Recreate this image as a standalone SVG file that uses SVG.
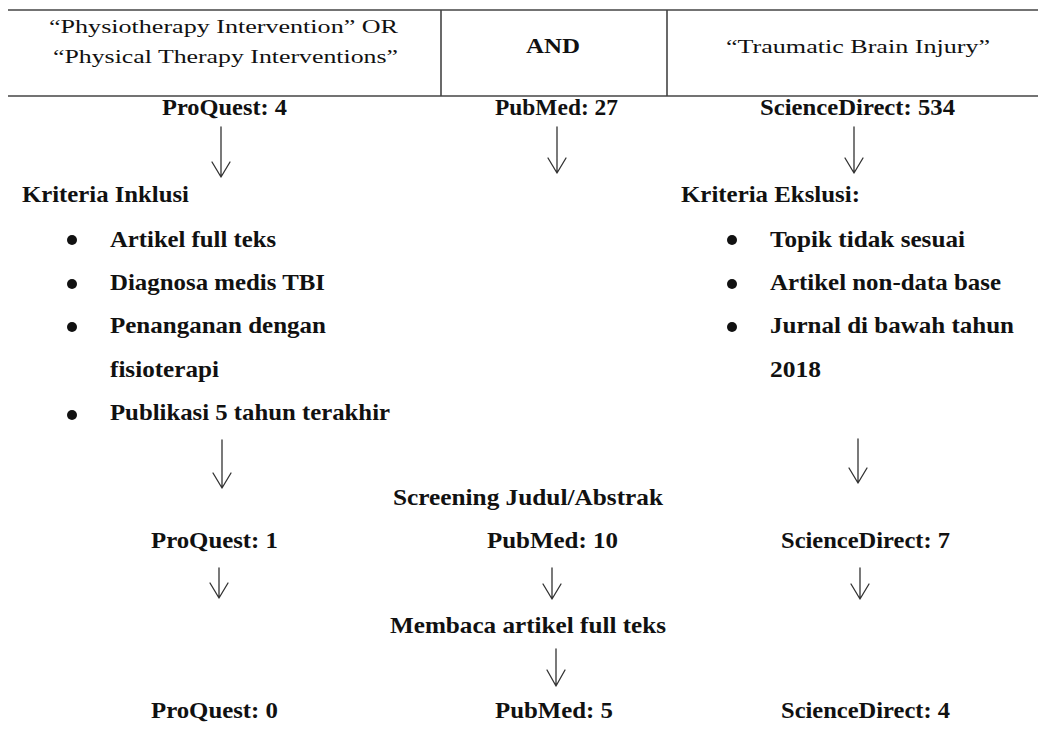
<svg xmlns="http://www.w3.org/2000/svg" width="1038" height="734" viewBox="0 0 1038 734">
<defs>
<style>
.r{font-family:"Liberation Serif","Times New Roman",serif;font-size:19.5px;fill:#111}
.b{font-family:"Liberation Serif","Times New Roman",serif;font-size:22.5px;font-weight:bold;fill:#111}
.tl{stroke:#444;stroke-width:1.6;fill:none}
.ar{stroke:#333;stroke-width:1.3;fill:none;stroke-linecap:round;stroke-linejoin:round}
.bu{fill:#111}
</style>
</defs>
<rect width="1038" height="734" fill="#fff"/>
<g id="table">
<line class="tl" x1="8" y1="10" x2="1038" y2="10"/>
<line class="tl" x1="8" y1="96" x2="1038" y2="96"/>
<line class="tl" x1="441" y1="10" x2="441" y2="96"/>
<line class="tl" x1="667" y1="10" x2="667" y2="96"/>
<text class="r" x="49" y="33" textLength="349" lengthAdjust="spacingAndGlyphs">“Physiotherapy Intervention” OR</text>
<text class="r" x="53" y="63" textLength="345" lengthAdjust="spacingAndGlyphs">“Physical Therapy Interventions”</text>
<text class="b" x="526" y="53" style="font-size:20px" textLength="54" lengthAdjust="spacingAndGlyphs">AND</text>
<text class="r" x="726" y="53" textLength="264" lengthAdjust="spacingAndGlyphs">“Traumatic Brain Injury”</text>
</g>
<g id="row1">
<text class="b" x="162" y="115" textLength="125" lengthAdjust="spacingAndGlyphs">ProQuest: 4</text>
<text class="b" x="495" y="115" textLength="123" lengthAdjust="spacingAndGlyphs">PubMed: 27</text>
<text class="b" x="760" y="115" textLength="195" lengthAdjust="spacingAndGlyphs">ScienceDirect: 534</text>
</g>
<g id="inklusi">
<text class="b" x="22" y="202" textLength="167" lengthAdjust="spacingAndGlyphs">Kriteria Inklusi</text>
<circle class="bu" cx="72" cy="240" r="5"/>
<circle class="bu" cx="72" cy="284" r="5"/>
<circle class="bu" cx="72" cy="327" r="5"/>
<circle class="bu" cx="72" cy="415" r="5"/>
<text class="b" x="110" y="247" textLength="166" lengthAdjust="spacingAndGlyphs">Artikel full teks</text>
<text class="b" x="110" y="290" textLength="215" lengthAdjust="spacingAndGlyphs">Diagnosa medis TBI</text>
<text class="b" x="110" y="333" textLength="216" lengthAdjust="spacingAndGlyphs">Penanganan dengan</text>
<text class="b" x="110" y="377" textLength="109" lengthAdjust="spacingAndGlyphs">fisioterapi</text>
<text class="b" x="110" y="420" textLength="280" lengthAdjust="spacingAndGlyphs">Publikasi 5 tahun terakhir</text>
</g>
<g id="eksklusi">
<text class="b" x="681" y="202" textLength="179" lengthAdjust="spacingAndGlyphs">Kriteria Ekslusi:</text>
<circle class="bu" cx="732" cy="240" r="5"/>
<circle class="bu" cx="732" cy="284" r="5"/>
<circle class="bu" cx="732" cy="327" r="5"/>
<text class="b" x="770" y="247" textLength="195" lengthAdjust="spacingAndGlyphs">Topik tidak sesuai</text>
<text class="b" x="770" y="290" textLength="231" lengthAdjust="spacingAndGlyphs">Artikel non-data base</text>
<text class="b" x="770" y="333" textLength="244" lengthAdjust="spacingAndGlyphs">Jurnal di bawah tahun</text>
<text class="b" x="770" y="377" textLength="51" lengthAdjust="spacingAndGlyphs">2018</text>
</g>
<g id="screening">
<text class="b" x="393" y="505" textLength="270" lengthAdjust="spacingAndGlyphs">Screening Judul/Abstrak</text>
</g>
<g id="row2">
<text class="b" x="151" y="548" textLength="127" lengthAdjust="spacingAndGlyphs">ProQuest: 1</text>
<text class="b" x="487" y="548" textLength="131" lengthAdjust="spacingAndGlyphs">PubMed: 10</text>
<text class="b" x="781" y="548" textLength="169" lengthAdjust="spacingAndGlyphs">ScienceDirect: 7</text>
</g>
<g id="membaca">
<text class="b" x="390" y="633" textLength="276" lengthAdjust="spacingAndGlyphs">Membaca artikel full teks</text>
</g>
<g id="row3">
<text class="b" x="151" y="718" textLength="127" lengthAdjust="spacingAndGlyphs">ProQuest: 0</text>
<text class="b" x="495" y="718" textLength="118" lengthAdjust="spacingAndGlyphs">PubMed: 5</text>
<text class="b" x="781" y="718" textLength="169" lengthAdjust="spacingAndGlyphs">ScienceDirect: 4</text>
</g>
<g id="connectors">
<path class="ar" d="M221 127V177M212 162L221 177L230 162"/>
<path class="ar" d="M557 127V173M548 158L557 173L566 158"/>
<path class="ar" d="M854 127V173M845 158L854 173L863 158"/>
<path class="ar" d="M222 440V488M213 473L222 488L231 473"/>
<path class="ar" d="M858 439V483M849 468L858 483L867 468"/>
<path class="ar" d="M219 568V598M210 583L219 598L228 583"/>
<path class="ar" d="M552 568V599M543 584L552 599L561 584"/>
<path class="ar" d="M860 568V599M851 584L860 599L869 584"/>
<path class="ar" d="M556 649V686M547 670L556 686L565 670"/>
</g>
</svg>
